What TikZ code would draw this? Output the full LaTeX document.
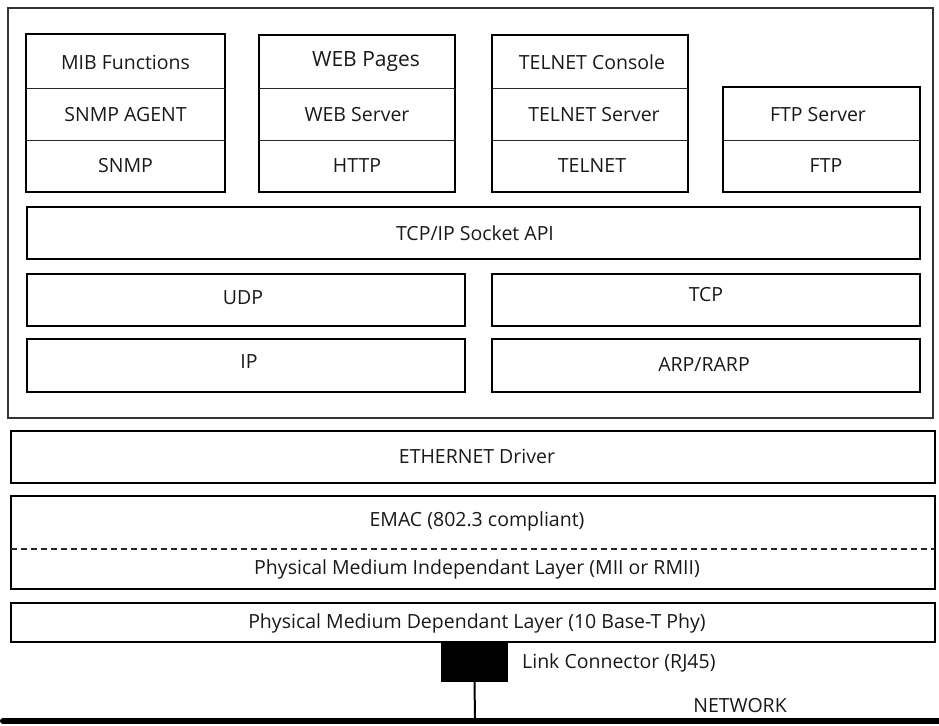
\documentclass[tikz,border=0pt]{standalone}
\usepackage{fontspec}
\setmainfont{Open Sans}
\begin{document}
\begin{tikzpicture}[x=1pt,y=-1pt,
  box/.style={draw=black,line width=1.5pt,inner sep=0pt,outer sep=0pt,anchor=north west},
  divider/.style={draw=black!85,line width=0.9pt},
  lbl/.style={inner sep=0pt,font=\fontsize{19.5}{21}\selectfont,text=black!90}]
\useasboundingbox (0,0) rectangle (939,725);
% outer frame
\node[box,draw=black!80,line width=1.4pt,minimum width=925,minimum height=410] (outer) at (8,8) {};
% SNMP stack
\node[box,minimum width=199,minimum height=158] (snmpbox) at (26,34) {};
\draw[divider] (26,88) -- (225,88);
\draw[divider] (26,140) -- (225,140);
\node[lbl] (mib) at (125.5,62) {MIB Functions};
\node[lbl] (agent) at (125.5,115) {SNMP AGENT};
\node[lbl] (snmp) at (125.5,166) {SNMP};
% WEB stack
\node[box,minimum width=196,minimum height=157] (webbox) at (259,35) {};
\draw[divider] (259,88) -- (455,88);
\draw[divider] (259,140) -- (455,140);
\node[lbl,font=\fontsize{21}{23}\selectfont] (pages) at (366,62) {WEB Pages};
\node[lbl] (websrv) at (357,115) {WEB Server};
\node[lbl] (http) at (357,166) {HTTP};
% TELNET stack
\node[box,minimum width=196,minimum height=157] (telbox) at (492,35) {};
\draw[divider] (492,88) -- (688,88);
\draw[divider] (492,140) -- (688,140);
\node[lbl] (console) at (592,62) {TELNET Console};
\node[lbl] (telsrv) at (594,115) {TELNET Server};
\node[lbl] (telnet) at (592,166) {TELNET};
% FTP stack
\node[box,minimum width=197,minimum height=105] (ftpbox) at (723,87) {};
\draw[divider] (723,140) -- (920,140);
\node[lbl] (ftpsrv) at (818,115) {FTP Server};
\node[lbl] (ftp) at (826,166) {FTP};
% socket API
\node[box,minimum width=893,minimum height=52] (api) at (27,207) {};
\node[lbl] (apil) at (475,233) {TCP/IP Socket API};
% transport / network
\node[box,minimum width=438,minimum height=52] (udp) at (27,274) {};
\node[lbl] (udpl) at (243,298) {UDP};
\node[box,minimum width=428,minimum height=52] (tcp) at (492,274) {};
\node[lbl] (tcpl) at (706,295) {TCP};
\node[box,minimum width=438,minimum height=53] (ip) at (27,339) {};
\node[lbl] (ipl) at (249,362) {IP};
\node[box,minimum width=428,minimum height=53] (arp) at (492,339) {};
\node[lbl] (arpl) at (704,365) {ARP/RARP};
% ethernet driver
\node[box,minimum width=924,minimum height=52] (eth) at (11,431) {};
\node[lbl] (ethl) at (477,456) {ETHERNET Driver};
% EMAC
\node[box,minimum width=924,minimum height=93] (emac) at (11,496) {};
\draw[black!85,line width=1.2pt,dash pattern=on 6pt off 4pt] (11,549) -- (935,549);
\node[lbl] (emacl) at (477,521) {EMAC (802.3 compliant)};
\node[lbl] (mii) at (477,569) {Physical Medium Independant Layer (MII or RMII)};
% PMD
\node[box,minimum width=924,minimum height=39] (pmd) at (11,603) {};
\node[lbl] (pmdl) at (477,623) {Physical Medium Dependant Layer (10 Base-T Phy)};
% link connector
\node[fill=black,draw=none,inner sep=0pt,outer sep=0pt,anchor=north west,minimum width=67,minimum height=40] (rj) at (441,642) {};
\node[lbl,anchor=west] (rjl) at (522,663) {Link Connector (RJ45)};
\coordinate (bus) at (475,719);
\draw[black,line width=2pt] (rj.south) -- (bus);
\node[lbl] (netl) at (740,706) {NETWORK};
\coordinate (busL) at (3,721);
\coordinate (busR) at (939,721);
\draw[black,line width=6pt,line cap=round] (busL) -- (busR);
\end{tikzpicture}
\end{document}
